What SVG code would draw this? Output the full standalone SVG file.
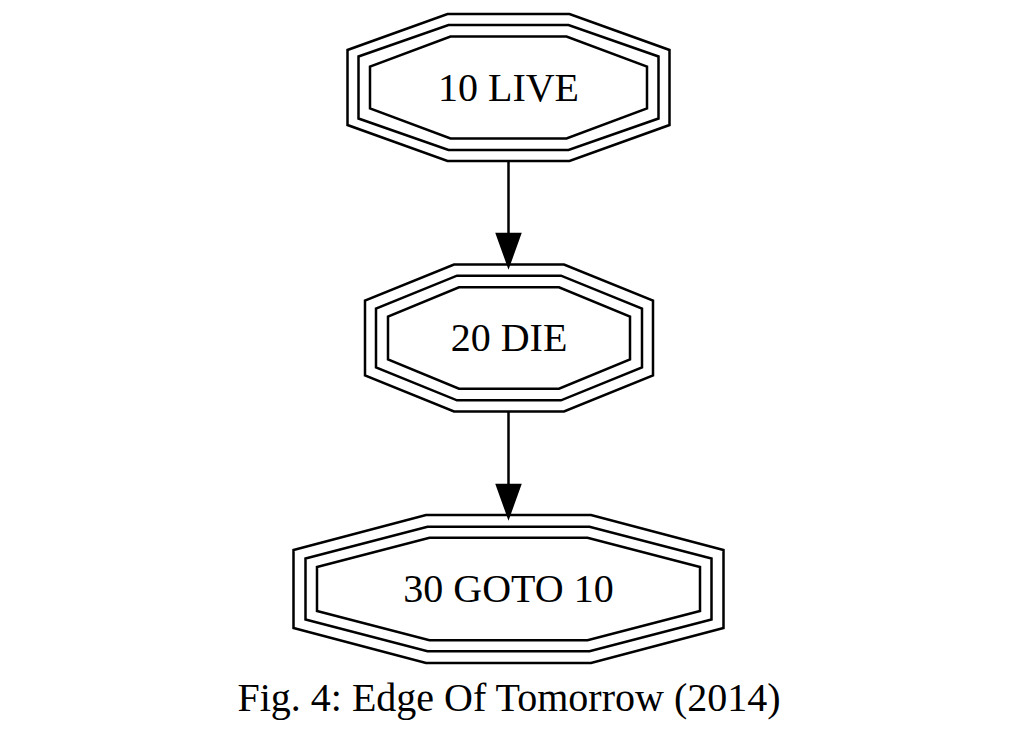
<svg xmlns="http://www.w3.org/2000/svg" width="1014" height="738" viewBox="0 0 1014 738">
<style>
.p{fill:none;stroke:#000;stroke-width:2.5;stroke-linejoin:miter}
.t{font-family:"Liberation Serif","Times New Roman",serif;font-size:40px;fill:#000;text-anchor:middle}
.e{stroke:#000;stroke-width:2.5;fill:none}
.h{fill:#000;stroke:#000;stroke-width:2.5}
</style>
<rect width="1014" height="738" fill="#fff"/>
<g id="node1" transform="translate(508.5,87.5)">
<polygon class="p" points="-61,-73.5 61,-73.5 161,-37.5 161,37.5 61,73.5 -61,73.5 -161,37.5 -161,-37.5"/>
<polygon class="p" points="-60,-62.5 60,-62.5 150,-31 150,31 60,62.5 -60,62.5 -150,31 -150,-31"/>
<polygon class="p" points="-58,-51 58,-51 138.5,-21 138.5,21 58,51 -58,51 -138.5,21 -138.5,-21"/>
<text class="t" x="0" y="13">10 LIVE</text>
</g>
<g id="node2" transform="translate(509,338)">
<polygon class="p" points="-55,-73.5 55,-73.5 144,-37.5 144,37.5 55,73.5 -55,73.5 -144,37.5 -144,-37.5"/>
<polygon class="p" points="-52,-62.3 52,-62.3 133,-29.5 133,29.5 52,62.3 -52,62.3 -133,29.5 -133,-29.5"/>
<polygon class="p" points="-50,-50.7 50,-50.7 121,-21.5 121,21.5 50,50.7 -50,50.7 -121,21.5 -121,-21.5"/>
<text class="t" x="0" y="13">20 DIE</text>
</g>
<g id="node3" transform="translate(508.5,589)">
<polygon class="p" points="-82.5,-74 82.5,-74 215,-39 215,39 82.5,74 -82.5,74 -215,39 -215,-39"/>
<polygon class="p" points="-81,-62.3 81,-62.3 203,-30.5 203,30.5 81,62.3 -81,62.3 -203,30.5 -203,-30.5"/>
<polygon class="p" points="-79,-51.3 79,-51.3 191.5,-22 191.5,22 79,51.3 -79,51.3 -191.5,22 -191.5,-22"/>
<text class="t" x="0" y="13">30 GOTO 10</text>
</g>
<g id="edges">
<line class="e" x1="508.5" y1="161" x2="508.5" y2="234"/>
<polygon class="h" points="497,234 520,234 508.5,266"/>
<line class="e" x1="508.5" y1="411.5" x2="508.5" y2="485"/>
<polygon class="h" points="497,485 520,485 508.5,517"/>
</g>
<text class="t" x="509" y="711">Fig. 4: Edge Of Tomorrow (2014)</text>
</svg>
